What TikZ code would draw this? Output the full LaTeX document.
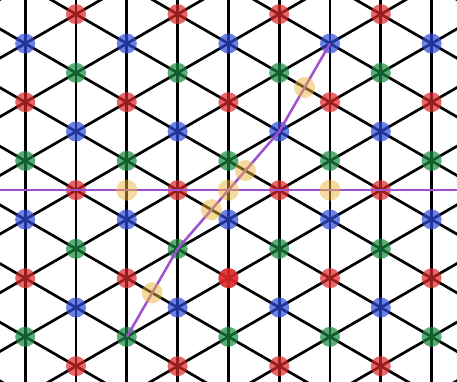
\documentclass[tikz,border=0pt]{standalone}
\usetikzlibrary{calc}
\definecolor{vred}{RGB}{220,40,40}
\definecolor{vblue}{RGB}{45,75,215}
\definecolor{vgreen}{RGB}{25,135,65}
\definecolor{hlcol}{RGB}{235,180,60}
\definecolor{cutcol}{RGB}{160,80,205}
\begin{document}
\begin{tikzpicture}[x=1pt,y=-1pt,
  lat/.style={line width=2.7pt, black},
  vdot/.style={circle, inner sep=0pt, minimum size=20pt, fill opacity=0.7},
  hlcirc/.style={circle, inner sep=0pt, minimum size=21pt, fill=hlcol, fill opacity=0.5},
  cut/.style={line width=2.5pt, cutcol}]
\useasboundingbox (0,0) rectangle (457,381);
\clip (0,0) rectangle (457,381);
\def\dx{50.8}
\def\dy{29.33}
\def\xo{25.2}
\def\yo{14.2}
% vertical lattice lines
\foreach \i in {0,...,8}
  \draw[lat] ({\xo+\dx*\i},-5) -- ({\xo+\dx*\i},390);
% down-right diagonals
\foreach \k in {-11,-9,...,15}
  \draw[lat] ({\xo-\dx},{\yo+\dy*(\k-1)}) -- ({\xo+10*\dx},{\yo+\dy*(\k+10)});
% up-right diagonals
\foreach \k in {-1,1,...,23}
  \draw[lat] ({\xo-\dx},{\yo+\dy*(\k+1)}) -- ({\xo+10*\dx},{\yo+\dy*(\k-10)});
% vertices
\foreach \i in {0,...,8}
  \foreach \r in {0,...,12} {
    \pgfmathtruncatemacro\vpar{mod(\i+\r,2)}
    \pgfmathtruncatemacro\vcol{mod(\r,3)}
    \ifnum\vpar=1
      \ifcase\vcol \def\cc{vred}\or \def\cc{vblue}\or \def\cc{vgreen}\fi
      \node[vdot, fill=\cc] (v-\i-\r) at ({\xo+\dx*\i},{\yo+\dy*\r}) {};
    \fi
  }
\node[vdot, fill=vred] (hot) at (v-4-9.center) {};
% cut lines
\coordinate (hL) at (-5,{\yo+6*\dy});
\coordinate (hR) at (462,{\yo+6*\dy});
\draw[cut] (hL) -- (hR);
\draw[cut] (v-2-11.center) -- (v-3-8.center) -- (v-5-4.center) -- (v-6-1.center);
% highlighted crossings
\node[hlcirc] (c1) at ($(v-2-5)!0.5!(v-2-7)$) {};
\node[hlcirc] (c2) at ($(v-4-5)!0.5!(v-4-7)$) {};
\node[hlcirc] (c3) at ($(v-6-5)!0.5!(v-6-7)$) {};
\node[hlcirc] (c4) at ($(v-3-8)!1/3!(v-5-4)$) {};
\node[hlcirc] (c5) at ($(v-3-8)!2/3!(v-5-4)$) {};
\node[hlcirc] (c6) at ($(v-5-4)!0.5!(v-6-1)$) {};
\node[hlcirc] (c7) at ($(v-2-11)!0.5!(v-3-8)$) {};
\end{tikzpicture}
\end{document}
